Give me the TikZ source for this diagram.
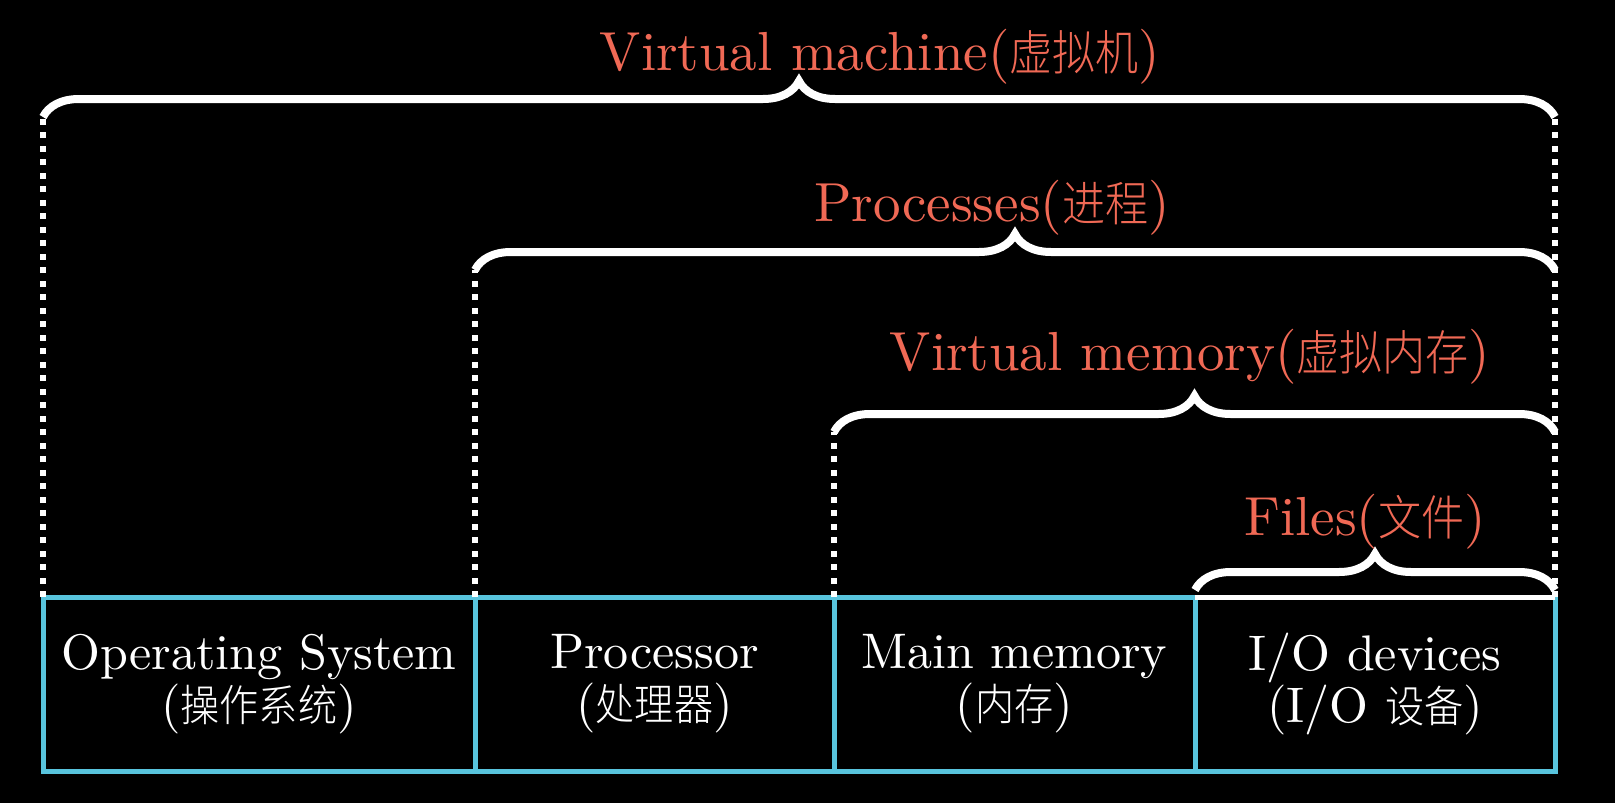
\documentclass[tikz,border=0pt]{standalone}
\usepackage{fontspec}
\usepackage{xcolor}
\usetikzlibrary{positioning,decorations.pathreplacing}
\setmainfont{lmroman10-regular}[Extension=.otf]
\newfontfamily\cjk{Noto Sans CJK SC Light}[Scale=0.87,FakeStretch=0.9]
\newcommand{\zh}[1]{{\cjk #1}}
\definecolor{boxblue}{HTML}{58C4DD}
\definecolor{labred}{HTML}{F06955}

\begin{document}
\begin{tikzpicture}[x=1pt,y=-1pt,every node/.style={font=\fontsize{50}{52}\selectfont,align=center,text=white,inner sep=0pt,outer sep=0pt},unit/.style={draw=boxblue,line width=5pt,minimum height=174pt},tag/.style={text=labred,font=\fontsize{55}{60}\selectfont,anchor=base},cbrace/.style={draw=white,line width=8pt,decorate,decoration={brace,amplitude=36pt}},guide/.style={draw=white,line width=6pt,dash pattern=on 6pt off 7.5pt}]
\useasboundingbox[fill=black] (0,0) rectangle (1615,803);
\node[unit,minimum width=432pt] (os) at (259,684) {Operating System\\(\zh{操作系统})};
\node[unit,minimum width=359pt] (cpu) at (654.5,684) {Processor\\(\zh{处理器})};
\node[unit,minimum width=361pt] (mem) at (1014.5,684) {Main memory\\(\zh{内存})};
\node[unit,minimum width=360pt] (io) at (1375,684) {I/O devices\\(I/O \zh{设备})};
\coordinate (vmL) at (43,117); \coordinate (vmR) at (1555,117);
\coordinate (procL) at (475,270); \coordinate (procR) at (1555,270);
\coordinate (memL) at (834,432); \coordinate (memR) at (1555,432);
\coordinate (fileL) at (1195,590); \coordinate (fileR) at (1555,590);
\draw[guide] (os.north west) -- (vmL);
\draw[guide] (cpu.north west) -- (procL);
\draw[guide] (mem.north west) -- (memL);
\draw[guide] (io.north east) -- (vmR);
\draw[white,line width=5pt] (io.north west) -- (io.north east);
\draw[cbrace] (vmL) -- (vmR); \draw[cbrace] (procL) -- (procR);
\draw[cbrace] (memL) -- (memR); \draw[cbrace] (fileL) -- (fileR);
\node[tag] (vmtag) at (880,70) {Virtual machine(\zh{虚拟机})};
\node[tag] (proctag) at (992,221) {Processes(\zh{进程})};
\node[tag] (memtag) at (1190,370) {Virtual memory(\zh{虚拟内存})};
\node[tag] (filetag) at (1365,535) {Files(\zh{文件})};
\end{tikzpicture}
\end{document}
